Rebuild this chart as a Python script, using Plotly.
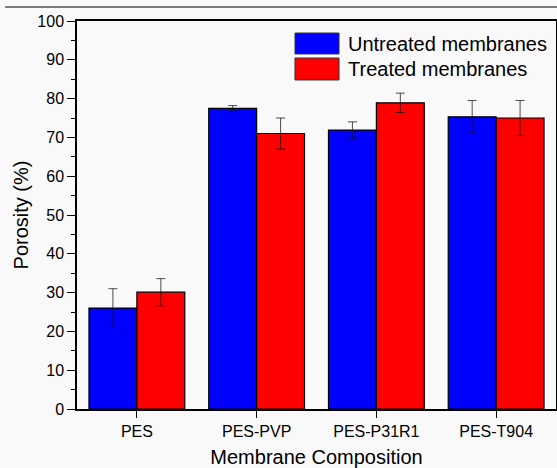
import plotly.graph_objects as go

categories = ["PES", "PES-PVP", "PES-P31R1", "PES-T904"]
untreated = [26.0, 77.5, 71.9, 75.3]
untreated_err = [5.0, 0.7, 2.1, 4.2]
treated = [30.1, 71.0, 78.9, 75.0]
treated_err = [3.5, 4.0, 2.5, 4.5]
series_names = ["Untreated membranes", "Treated membranes"]
colors = ["#0000ff", "#ff0000"]

FONT = "Arial, Liberation Sans, sans-serif"

fig = go.Figure()
for name, vals, errs, col in [
    (series_names[0], untreated, untreated_err, colors[0]),
    (series_names[1], treated, treated_err, colors[1]),
]:
    fig.add_trace(go.Bar(
        x=categories, y=vals, name=name,
        marker=dict(color=col, line=dict(color="#000000", width=1.2)),
        error_y=dict(type="data", array=errs, visible=True,
                     color="rgba(20,20,20,0.75)", thickness=1, width=4.5),
        showlegend=False,
    ))

fig.update_layout(
    width=557, height=468,
    margin=dict(l=77, r=1, t=21, b=59),
    barmode="group", bargap=0.2, bargroupgap=0,
    paper_bgcolor="#f9f9f9", plot_bgcolor="#f9f9f9",
    font=dict(family=FONT, size=16, color="#000000"),
)
fig.update_xaxes(
    range=[-0.5, 3.5], showline=True, linecolor="#000", linewidth=1.5, mirror=True,
    ticks="outside", ticklen=7, tickwidth=1.2, tickcolor="#000",
    tickfont=dict(size=16, family=FONT),
    title=dict(text="Membrane Composition", font=dict(size=20, family=FONT), standoff=18),
    showgrid=False, automargin=False,
)
fig.update_yaxes(
    range=[0, 100], dtick=10, showline=True, linecolor="#000", linewidth=1.5, mirror=True,
    ticks="outside", ticklen=8, tickwidth=1.2, tickcolor="#000",
    minor=dict(ticks="outside", ticklen=4, dtick=5, tickcolor="#000", tickwidth=1),
    tickfont=dict(size=16, family=FONT),
    title=dict(text="Porosity (%)", font=dict(size=20, family=FONT), standoff=3),
    showgrid=False, zeroline=False, automargin=False,
)

# top border line seen in the image
fig.add_shape(type="line", xref="paper", yref="paper", x0=-0.15, x1=1.01, y0=1.036, y1=1.036,
              line=dict(color="#7a7a7a", width=2))

# custom legend
legend_rows = [(series_names[0], colors[0], 0.969, 0.915), (series_names[1], colors[1], 0.9046, 0.848)]
for name, col, ytop, ybot in legend_rows:
    fig.add_shape(type="rect", xref="paper", yref="paper", x0=0.4551, x1=0.547, y0=ybot, y1=ytop,
                  fillcolor=col, line=dict(color="#333", width=1))
    fig.add_annotation(xref="paper", yref="paper", x=0.5616, y=(ytop + ybot) / 2, text=name,
                       showarrow=False, xanchor="left", yanchor="middle",
                       font=dict(size=20, family=FONT, color="#000"))

fig.write_html("out.html")
